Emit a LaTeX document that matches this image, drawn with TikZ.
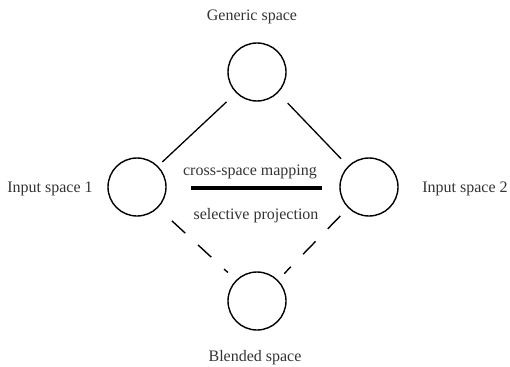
\documentclass[tikz,border=0pt]{standalone}
\usepackage{fontspec}
\setmainfont{Liberation Serif}
\begin{document}
\begin{tikzpicture}[x=1pt,y=-1pt,
  space/.style={circle,draw,line width=1.4pt,minimum size=58pt,inner sep=0pt},
  lab/.style={font=\fontsize{16}{18}\selectfont,text=black!80,inner sep=0pt},
  link/.style={line width=1.3pt},
  dlink/.style={line width=1.4pt,dash pattern=on 18pt off 17.5pt}]
\useasboundingbox (0,0) rectangle (510,366);
\node[space] (g) at (257,72) {};
\node[space] (l) at (137,187) {};
\node[space] (r) at (369,187) {};
\node[space] (b) at (257,301) {};
\node[lab] (gt) at (252,17) {Generic space};
\node[lab] (lt) at (50,189) {Input space 1};
\node[lab] (rt) at (465,189) {Input space 2};
\node[lab] (bt) at (255,358) {Blended space};
\node[lab] (ct) at (250,172) {cross-space mapping};
\node[lab] (st) at (256,216) {selective projection};
\coordinate (m1) at (191,188);
\coordinate (m2) at (322,188);
\draw[line width=3.5pt] (m1) -- (m2);
\draw[link,shorten <=13pt,shorten >=6pt] (g.south west) -- (l.north east);
\draw[link,shorten <=14pt,shorten >=10pt] (g.south east) -- (r.north west);
\draw[dlink,shorten <=19pt,shorten >=11pt] (l.south east) -- (b.north west);
\draw[dlink,shorten <=11pt,shorten >=9pt] (r.south west) -- (b.north east);
\end{tikzpicture}
\end{document}
